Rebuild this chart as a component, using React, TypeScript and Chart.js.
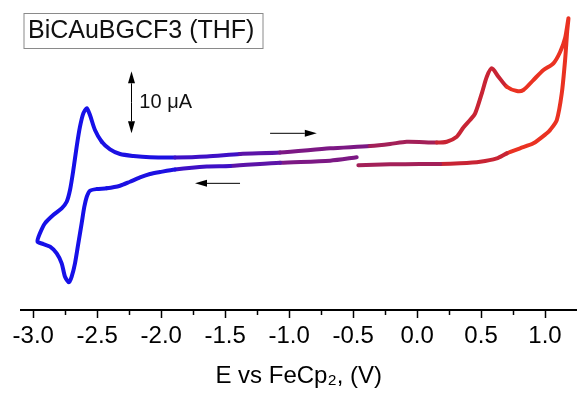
import React, { useEffect, useRef } from "react";
import { Chart, registerables } from "chart.js";

Chart.register(...registerables);

// Cyclic voltammogram, in scan order: start at -0.47 V going negative,
// reverse at -2.97 V, sweep positive to 1.18 V, then back to -0.46 V.
const potential = [
  -0.472, -0.68, -1.071, -1.462, -1.644, -1.892, -2.009, -2.088, -2.166, -2.244,
  -2.322, -2.426, -2.504, -2.557, -2.582, -2.601, -2.622, -2.648, -2.674, -2.7,
  -2.721, -2.752, -2.778, -2.817, -2.869, -2.922, -2.967,
  -2.948, -2.909, -2.844, -2.778, -2.739, -2.713, -2.687, -2.661, -2.635, -2.609,
  -2.582, -2.557, -2.518, -2.465, -2.4, -2.322, -2.218, -2.088, -1.892, -1.644,
  -1.384, -1.071, -0.68, -0.368, -0.211, -0.081, 0.154, 0.232, 0.31, 0.362,
  0.414, 0.454, 0.506, 0.545, 0.584, 0.636, 0.701, 0.78, 0.831, 0.909,
  0.988, 1.066, 1.118, 1.157, 1.183,
  1.173, 1.157, 1.131, 1.092, 1.04, 1.014, 0.909, 0.805, 0.701, 0.623,
  0.493, 0.336, 0.18, 0.023, -0.211, -0.459,
];

const current = [
  0.44, -0.11, -0.44, -0.97, -1.05, -1.53, -1.94, -2.26, -2.81, -3.5,
  -4.15, -4.56, -4.68, -4.95, -5.92, -7.53, -10.21, -13.44, -16.66, -18.82,
  -19.73, -18.82, -16.66, -15.05, -13.98, -13.55, -13.15,
  -11.82, -10.21, -8.87, -7.79, -6.73, -4.84, -1.61, 2.15, 5.37, 7.53,
  8.34, 7.26, 4.84, 2.95, 1.73, 0.97, 0.65, 0.44, 0.4, 0.56,
  0.97, 1.21, 1.89, 2.26, 2.58, 2.95, 2.82, 2.95, 3.76, 5.24,
  6.45, 7.53, 10.76, 13.44, 14.79, 13.44, 11.82, 11.13, 11.29, 12.9,
  14.52, 15.6, 17.42, 19.68, 22.85,
  20.65, 16.13, 10.76, 6.45, 4.84, 4.31, 2.69, 1.89, 1.08, 0.27,
  -0.27, -0.53, -0.65, -0.65, -0.69, -0.85,
];

const majorTicks = [-3.0, -2.5, -2.0, -1.5, -1.0, -0.5, 0.0, 0.5, 1.0];
const minorTicks = [-2.75, -2.25, -1.75, -1.25, -0.75, -0.25, 0.25, 0.75];

// colour bins along the potential axis (blue -> red)
const colorEdges = [-2.45, -1.93, -1.41, -0.89, -0.37, 0.16, 0.67];
const binColors = [
  "rgb(22,16,232)",
  "rgb(28,16,226)",
  "rgb(62,16,198)",
  "rgb(92,20,168)",
  "rgb(124,24,132)",
  "rgb(163,32,88)",
  "rgb(200,36,52)",
  "rgb(234,50,34)",
];

const chartTitle = "BiCAuBGCF3 (THF)";
const axisTitle = "E vs FeCp\u2082, (V)";
const scaleBarLabel = "10 \u03bcA";

// annotation anchors in data units (V, μA)
const forwardArrow = { x1: -1.149, x2: -0.784, y: 4.31 };
const reverseArrow = { x1: -1.384, x2: -1.736, y: -3.76 };
const scaleBar = { x: -2.238, y1: 4.3, y2: 14.3, labelX: -2.171, labelY: 9.35 };

const FONT = 'Arial, "Liberation Sans", sans-serif';

function colorFor(v: number): string {
  let i = 0;
  while (i < colorEdges.length && v > colorEdges[i]) i++;
  return binColors[i];
}

function drawArrow(ctx: CanvasRenderingContext2D, x1: number, y1: number, x2: number, y2: number) {
  const head = 12;
  const half = 3.5;
  const dx = x2 - x1;
  const dy = y2 - y1;
  const len = Math.hypot(dx, dy);
  const ux = dx / len;
  const uy = dy / len;
  const bx = x2 - ux * head;
  const by = y2 - uy * head;
  ctx.beginPath();
  ctx.moveTo(x1, y1);
  ctx.lineTo(bx, by);
  ctx.stroke();
  ctx.beginPath();
  ctx.moveTo(x2, y2);
  ctx.lineTo(bx - uy * half, by + ux * half);
  ctx.lineTo(bx + uy * half, by - ux * half);
  ctx.closePath();
  ctx.fill();
}

const annotationPlugin = {
  id: "cvAnnotations",
  afterDraw(chart: any) {
    const { ctx, chartArea } = chart;
    const xs = chart.scales.x;
    const ys = chart.scales.y;
    ctx.save();

    // minor ticks on the x axis
    ctx.strokeStyle = "#000";
    ctx.lineWidth = 1.5;
    for (const v of minorTicks) {
      const px = Math.round(xs.getPixelForValue(v)) + 0.5;
      ctx.beginPath();
      ctx.moveTo(px, chartArea.bottom);
      ctx.lineTo(px, chartArea.bottom + 5);
      ctx.stroke();
    }

    // title box
    ctx.strokeStyle = "#8a8a8a";
    ctx.lineWidth = 1;
    ctx.strokeRect(chartArea.left + 3.5, chartArea.top + 13.5, 239, 35);
    ctx.fillStyle = "#111";
    ctx.font = `25px ${FONT}`;
    ctx.textAlign = "left";
    ctx.textBaseline = "middle";
    ctx.fillText(chartTitle, chartArea.left + 7.5, chartArea.top + 31);

    // arrows
    ctx.strokeStyle = "#000";
    ctx.fillStyle = "#000";
    ctx.lineWidth = 1;
    const fy = ys.getPixelForValue(forwardArrow.y);
    drawArrow(ctx, xs.getPixelForValue(forwardArrow.x1), fy, xs.getPixelForValue(forwardArrow.x2), fy);
    const ry = ys.getPixelForValue(reverseArrow.y);
    drawArrow(ctx, xs.getPixelForValue(reverseArrow.x1), ry, xs.getPixelForValue(reverseArrow.x2), ry);

    // scale bar (double-headed)
    const sx = Math.round(xs.getPixelForValue(scaleBar.x)) + 0.5;
    const sy1 = ys.getPixelForValue(scaleBar.y1);
    const sy2 = ys.getPixelForValue(scaleBar.y2);
    const mid = (sy1 + sy2) / 2;
    drawArrow(ctx, sx, mid, sx, sy1);
    drawArrow(ctx, sx, mid, sx, sy2);
    ctx.fillStyle = "#111";
    ctx.font = `20px ${FONT}`;
    ctx.textAlign = "left";
    ctx.textBaseline = "middle";
    ctx.fillText(scaleBarLabel, xs.getPixelForValue(scaleBar.labelX), ys.getPixelForValue(scaleBar.labelY));

    ctx.restore();
  },
};

export default function App() {
  const canvasRef = useRef<HTMLCanvasElement | null>(null);

  useEffect(() => {
    if (!canvasRef.current) return;
    Chart.defaults.font.family = FONT;
    const points = potential.map((v, i) => ({ x: v, y: current[i] }));
    const chart = new Chart(canvasRef.current, {
      type: "line",
      data: {
        datasets: [
          {
            data: points,
            borderColor: binColors[0],
            borderWidth: 4,
            pointRadius: 0,
            tension: 0.25,
            fill: false,
            borderCapStyle: "round",
            borderJoinStyle: "round",
            segment: {
              borderColor: (c: any) => colorFor((c.p0.parsed.x + c.p1.parsed.x) / 2),
            },
          },
        ],
      },
      options: {
        animation: false,
        responsive: true,
        maintainAspectRatio: false,
        layout: { padding: { left: 20.5, right: 0, top: 0, bottom: 0 } },
        plugins: {
          legend: { display: false },
          tooltip: { enabled: false },
          title: { display: false },
        },
        scales: {
          x: {
            type: "linear",
            min: -3.1,
            max: 1.25,
            afterBuildTicks: (axis: any) => {
              axis.ticks = majorTicks.map((v) => ({ value: v }));
            },
            ticks: {
              callback: (v: any) => Number(v).toFixed(1),
              font: { size: 24, family: FONT },
              color: "#000",
              padding: 4,
              maxRotation: 0,
              autoSkip: false,
            },
            grid: {
              drawOnChartArea: false,
              drawTicks: true,
              tickLength: 8,
              tickWidth: 1.5,
              tickColor: "#000",
            },
            border: { display: true, color: "#000", width: 2 },
            title: {
              display: true,
              text: axisTitle,
              font: { size: 24, family: FONT },
              color: "#000",
              padding: { top: 7.4, bottom: 3 },
            },
          },
          y: { display: false, min: -24.19, max: 25.81 },
        },
      },
      plugins: [annotationPlugin],
    });
    return () => chart.destroy();
  }, []);

  return (
    <div style={{ position: "fixed", left: 0, top: 0, width: 577, height: 394, background: "#fff" }}>
      <canvas ref={canvasRef} />
    </div>
  );
}
